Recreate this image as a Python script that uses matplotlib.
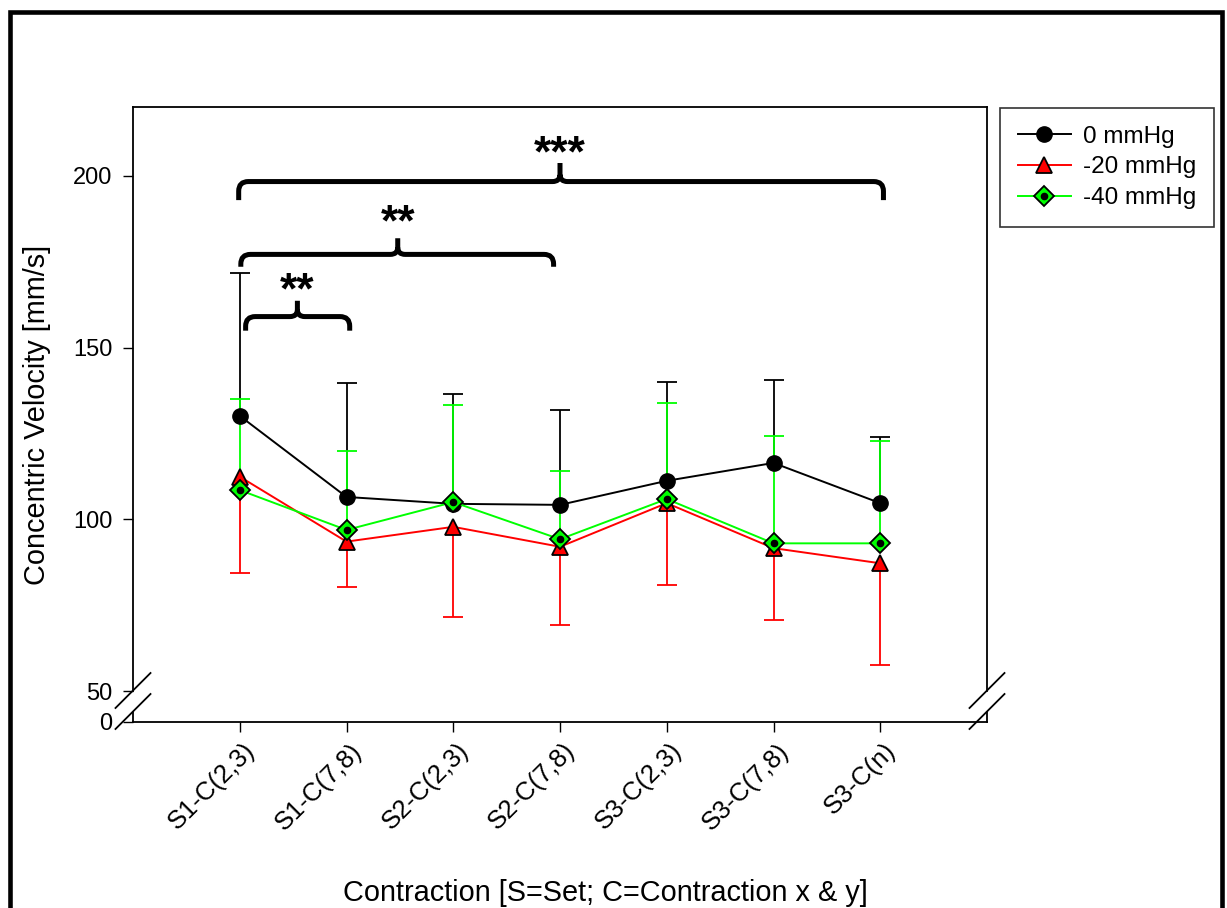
import numpy as np
import matplotlib
matplotlib.use("Agg")
import matplotlib.pyplot as plt
from matplotlib.lines import Line2D
from matplotlib.path import Path
from matplotlib.patches import PathPatch, Rectangle
from matplotlib.transforms import ScaledTranslation

plt.rcParams['font.family'] = ['Liberation Sans', 'DejaVu Sans']

# === Data ===
categories = ['S1-C(2,3)', 'S1-C(7,8)', 'S2-C(2,3)', 'S2-C(7,8)',
              'S3-C(2,3)', 'S3-C(7,8)', 'S3-C(n)']

mean_0 = [130.1, 106.5, 104.5, 104.2, 111.2, 116.4, 104.7]
sd_0 = [41.5, 33.1, 32.0, 27.6, 28.7, 24.1, 19.2]          # drawn upward

mean_20 = [112.4, 93.5, 97.8, 92.0, 104.7, 91.6, 87.2]
sd_20 = [28.0, 13.1, 26.2, 22.7, 23.8, 20.9, 29.6]         # drawn downward

mean_40 = [108.5, 96.9, 105.0, 94.2, 105.9, 93.0, 93.0]
sd_40 = [26.5, 23.0, 28.3, 19.9, 28.0, 31.3, 29.8]         # drawn upward

series_labels = ['0 mmHg', '-20 mmHg', '-40 mmHg']

# significance comparisons (category index pairs)
comparisons = [(0, 1, '**'), (0, 3, '**'), (0, 6, '***')]

# === Figure ===
fig = plt.figure(figsize=(12.27, 9.08), dpi=100)
ax = fig.add_axes([133 / 1227, (908 - 722) / 908, 854 / 1227, 615 / 908])

x = np.arange(1, len(categories) + 1)
ZERO_POS = 41.0  # where "0" sits below the axis break
ax.set_xlim(0, 8)
ax.set_ylim(ZERO_POS, 220)


def one_sided_bars(xs, means, sds, color, direction):
    means = np.asarray(means)
    ends = means + direction * np.asarray(sds)
    ax.vlines(xs, means, ends, color=color, lw=1.3, zorder=2)
    ax.plot(xs, ends, ls='none', marker='_', ms=14, mew=1.3, color=color, zorder=2)


one_sided_bars(x, mean_0, sd_0, 'black', +1)
one_sided_bars(x, mean_20, sd_20, '#ff0000', -1)
one_sided_bars(x, mean_40, sd_40, '#00ff00', +1)

ax.plot(x, mean_0, color='black', lw=1.4, marker='o', ms=11,
        mfc='black', mec='black', zorder=3)
ax.plot(x, mean_20, color='#ff0000', lw=1.4, marker='^', ms=12,
        mfc='#ff0000', mec='black', mew=1.3, zorder=4)
ax.plot(x, mean_40, color='#00ff00', lw=1.4, marker='D', ms=10.5,
        mfc='#00ff00', mec='black', mew=1.3, zorder=5)
ax.plot(x, mean_40, ls='none', marker='o', ms=4.5, color='black', zorder=6)

# === Axes styling ===
ax.set_xticks(x)
ax.set_xticklabels(categories, rotation=45, ha='right', va='top',
                   rotation_mode='anchor', fontsize=18.5)
ax.tick_params(axis='x', direction='out', length=7, width=1, pad=5)
shift = ScaledTranslation(3 / 100, 0, fig.dpi_scale_trans)
for lbl in ax.get_xticklabels():
    lbl.set_transform(lbl.get_transform() + shift)
ax.set_yticks([ZERO_POS, 50, 100, 150, 200])
ax.set_yticklabels(['0', '50', '100', '150', '200'], fontsize=17)
ax.tick_params(axis='y', direction='out', length=7, width=1, pad=8)

for s in ax.spines.values():
    s.set_linewidth(1.3)
break_top, break_bot = 50.0, 43.9
ax.spines['left'].set_bounds(break_top, 220)
ax.spines['right'].set_bounds(break_top, 220)
for xa in (0, 1):
    ax.plot([xa, xa], [ZERO_POS, break_bot], color='black', lw=1.3,
            transform=ax.get_yaxis_transform(), clip_on=False)

# break marks
dx, dy = 17.5 / 854, 17.5 / 615
for xa in (0, 1):
    for yc in ((722 - 690.5) / 615, (722 - 711.5) / 615):
        ax.plot([xa - dx, xa + dx], [yc - dy, yc + dy], color='black', lw=1.3,
                transform=ax.transAxes, clip_on=False)

# === Significance braces ===
brace_geom = [  # x_left, x_right, x_mid, y_leg, y_bar, y_tip, y_text
    (1.055, 2.03, 1.54, 154.9, 159.0, 163.6, 162.8),
    (1.01, 3.94, 2.48, 173.5, 177.1, 181.8, 182.5),
    (0.99, 7.03, 4.0, 192.9, 198.3, 203.7, 202.8),
]


def draw_brace(x1, x2, xm, yl, yb, yt):
    rx, ry = 0.09, 2.8
    cx, cy = 0.07, 2.0
    verts = [(x1, yl), (x1, yb - ry), (x1, yb), (x1 + rx, yb),
             (xm - cx, yb), (xm, yb), (xm, yb + cy), (xm, yt),
             (xm, yb + cy), (xm, yb), (xm + cx, yb),
             (x2 - rx, yb), (x2, yb), (x2, yb - ry), (x2, yl)]
    codes = [Path.MOVETO, Path.LINETO, Path.CURVE3, Path.CURVE3,
             Path.LINETO, Path.CURVE3, Path.CURVE3, Path.LINETO,
             Path.MOVETO, Path.CURVE3, Path.CURVE3,
             Path.LINETO, Path.CURVE3, Path.CURVE3, Path.LINETO]
    ax.add_patch(PathPatch(Path(verts, codes), fill=False, lw=3.6,
                           capstyle='butt', joinstyle='round',
                           clip_on=False, zorder=7))


for (i, j, lab), g in zip(comparisons, brace_geom):
    draw_brace(*g[:6])
    ax.text(g[2], g[6], lab, ha='center', va='baseline', fontsize=32,
            fontweight='bold', zorder=8)

# === Legend ===
h0 = Line2D([], [], color='black', lw=1.4, marker='o', ms=11)
h20 = Line2D([], [], color='#ff0000', lw=1.4, marker='^', ms=12,
             mfc='#ff0000', mec='black', mew=1.3)
h40 = Line2D([], [], color='#00ff00', lw=1.4, marker='D', ms=10.5,
             mfc='#00ff00', mec='black', mew=1.3)
h40dot = Line2D([], [], ls='none', marker='o', ms=4.5, color='black')
leg = fig.legend([h0, h20, (h40, h40dot)], series_labels, loc='upper left',
                 bbox_to_anchor=(1000 / 1227, 1 - 108 / 908), borderaxespad=0,
                 fontsize=17.5, frameon=True, fancybox=False, handlelength=2.2,
                 handletextpad=0.5, borderpad=0.72, labelspacing=0.36)
leg.get_frame().set_edgecolor('black')
leg.get_frame().set_linewidth(1.2)

# === Axis titles ===
fig.text(37 / 1227, 1 - 415 / 908, 'Concentric Velocity [mm/s]', rotation=90,
         ha='center', va='center', fontsize=20.8)
fig.text(605 / 1227, 1 - 893 / 908, 'Contraction [S=Set; C=Contraction x & y]',
         ha='center', va='center', fontsize=20.8)

# outer frame
fig.add_artist(Rectangle((9.5 / 1227, -0.05), (1221.5 - 9.5) / 1227, 1.05 - 12 / 908,
                         transform=fig.transFigure, fill=False, lw=3.3,
                         edgecolor='black'))

fig.savefig('out.png', dpi=100)
